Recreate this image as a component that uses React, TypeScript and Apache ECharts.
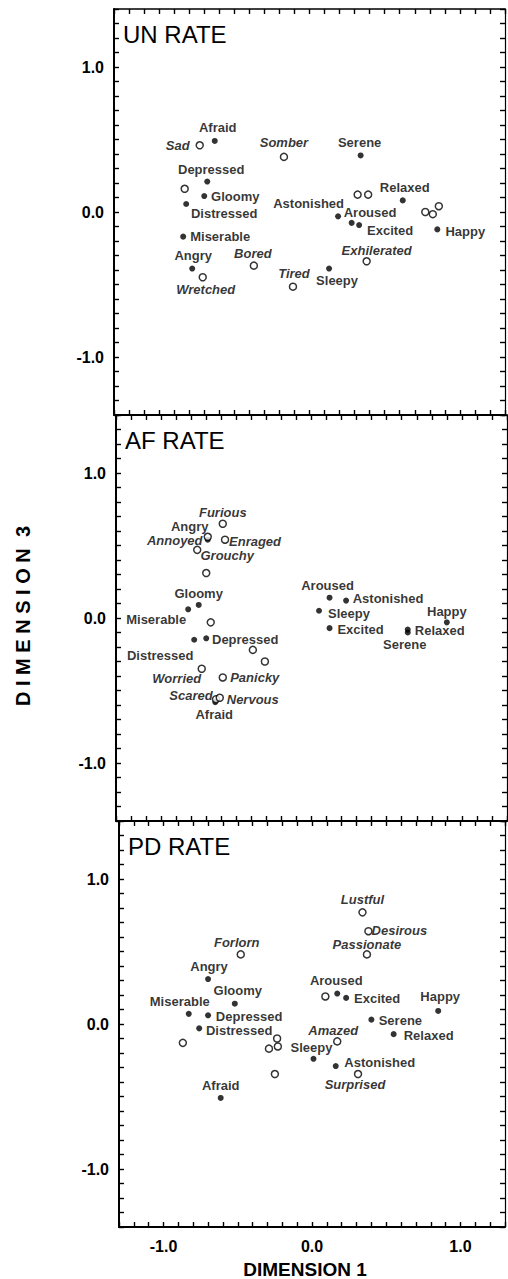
import React, { useEffect, useRef } from "react";
import * as echarts from "echarts";

type Pt = [string, number, number];

const panelTitles = ["UN RATE", "AF RATE", "PD RATE"];
const xAxisTitle = "DIMENSION 1";
const yAxisTitle = "D I M E N S I O N  3";

// UN RATE
const unFilled: Pt[] = [
  ["Afraid", -0.63, 0.49],
  ["Serene", 0.34, 0.39],
  ["Depressed", -0.68, 0.21],
  ["Gloomy", -0.7, 0.11],
  ["Relaxed", 0.62, 0.08],
  ["Distressed", -0.82, 0.055],
  ["Aroused", 0.19, -0.03],
  ["Astonished", 0.28, -0.075],
  ["Excited", 0.33, -0.09],
  ["Happy", 0.85, -0.12],
  ["Miserable", -0.84, -0.17],
  ["Angry", -0.78, -0.39],
  ["Sleepy", 0.13, -0.39],
];
const unOpen: Pt[] = [
  ["Sad", -0.73, 0.46],
  ["Somber", -0.17, 0.38],
  ["", -0.83, 0.16],
  ["", 0.32, 0.12],
  ["", 0.39, 0.12],
  ["", 0.77, 0.0],
  ["", 0.82, -0.015],
  ["", 0.86, 0.04],
  ["Bored", -0.37, -0.37],
  ["Exhilerated", 0.38, -0.34],
  ["Wretched", -0.71, -0.45],
  ["Tired", -0.11, -0.515],
];

// AF RATE
const afFilled: Pt[] = [
  ["Angry", -0.69, 0.54],
  ["Gloomy", -0.75, 0.09],
  ["Miserable", -0.82, 0.06],
  ["Depressed", -0.7, -0.14],
  ["Distressed", -0.78, -0.15],
  ["Afraid", -0.64, -0.58],
  ["Aroused", 0.12, 0.14],
  ["Astonished", 0.23, 0.12],
  ["Sleepy", 0.05, 0.05],
  ["Excited", 0.12, -0.07],
  ["Happy", 0.9, -0.03],
  ["Relaxed", 0.64, -0.1],
  ["Serene", 0.64, -0.08],
];
const afOpen: Pt[] = [
  ["Furious", -0.59, 0.65],
  ["Annoyed", -0.69, 0.56],
  ["Enraged", -0.575, 0.54],
  ["Grouchy", -0.76, 0.47],
  ["", -0.7, 0.31],
  ["", -0.67, -0.03],
  ["", -0.39, -0.22],
  ["", -0.31, -0.3],
  ["Worried", -0.73, -0.35],
  ["Panicky", -0.59, -0.41],
  ["Scared", -0.635, -0.56],
  ["Nervous", -0.61, -0.55],
];

// PD RATE
const pdFilled: Pt[] = [
  ["Angry", -0.7, 0.31],
  ["Aroused", 0.17, 0.21],
  ["Excited", 0.23, 0.18],
  ["Happy", 0.85, 0.09],
  ["Gloomy", -0.52, 0.14],
  ["Miserable", -0.83, 0.07],
  ["Depressed", -0.7, 0.06],
  ["Distressed", -0.76, -0.03],
  ["Serene", 0.4, 0.03],
  ["Relaxed", 0.55, -0.07],
  ["Sleepy", 0.01, -0.24],
  ["Astonished", 0.16, -0.29],
  ["Afraid", -0.615, -0.51],
];
const pdOpen: Pt[] = [
  ["Lustful", 0.34, 0.77],
  ["Desirous", 0.38, 0.64],
  ["Passionate", 0.37, 0.48],
  ["Forlorn", -0.48, 0.48],
  ["", 0.09, 0.19],
  ["", -0.87, -0.13],
  ["", -0.235, -0.1],
  ["", -0.29, -0.17],
  ["", -0.23, -0.155],
  ["Amazed", 0.17, -0.12],
  ["Surprised", 0.31, -0.345],
  ["", -0.25, -0.345],
];

// label placement (pixel offsets of label centre from its point)
const unLabelPos: Record<string, [number, number]> = {
  Afraid: [3, -13], Serene: [-1, -13], Depressed: [4, -12], Gloomy: [31, 0],
  Relaxed: [2, -13], Distressed: [38, 9], Aroused: [32, -4], Astonished: [-43, -19],
  Excited: [31, 5], Happy: [28, 2], Miserable: [37, 0], Angry: [1, -13], Sleepy: [8, 12],
  Sad: [-22, 0], Somber: [0, -14], Bored: [-1, -12], Exhilerated: [10, -11],
  Wretched: [3, 12], Tired: [1, -13],
};
const afLabelPos: Record<string, [number, number]> = {
  Angry: [-18, -13], Gloomy: [0, -11], Miserable: [-32, 10], Depressed: [39, 1],
  Distressed: [-34, 16], Afraid: [-1, 12], Aroused: [-2, -12], Astonished: [42, -2],
  Sleepy: [30, 3], Excited: [31, 1], Happy: [0, -11], Relaxed: [32, -2], Serene: [-3, 15],
  Furious: [0, -11], Annoyed: [-33, 4], Enraged: [30, 2], Grouchy: [30, 6],
  Worried: [-25, 10], Panicky: [32, 0], Scared: [-25, -4], Nervous: [33, 2],
};
const pdLabelPos: Record<string, [number, number]> = {
  Angry: [1, -13], Aroused: [-1, -13], Excited: [31, 1], Happy: [2, -14], Gloomy: [3, -13],
  Miserable: [-9, -12], Depressed: [41, 1], Distressed: [40, 2], Serene: [29, 1],
  Relaxed: [35, 1], Sleepy: [-2, -11], Astonished: [44, -4], Afraid: [0, -12],
  Lustful: [0, -13], Desirous: [31, -1], Passionate: [0, -10], Forlorn: [-4, -12],
  Amazed: [-4, -11], Surprised: [-3, 10],
};

const panels = [
  { filled: unFilled, open: unOpen, pos: unLabelPos },
  { filled: afFilled, open: afOpen, pos: afLabelPos },
  { filled: pdFilled, open: pdOpen, pos: pdLabelPos },
];

const GRID_LEFT = [114, 116, 119];
const GRID_TOP = [9, 415, 821];
const GRID_W = 391;
const GRID_H = 406;
const FONT = "'Liberation Sans', Arial, Helvetica, sans-serif";
const INK = "#000";

const intLabel = (v: number) =>
  Math.abs(v - Math.round(v)) < 1e-6 ? Math.round(v).toFixed(1) : "";

export default function App() {
  const ref = useRef<HTMLDivElement>(null);

  useEffect(() => {
    document.body.style.margin = "0";
    if (!ref.current) return;
    const chart = echarts.init(ref.current, undefined, { renderer: "svg" });

    const grid: any[] = [];
    const xAxis: any[] = [];
    const yAxis: any[] = [];
    const series: any[] = [];
    const graphic: any[] = [];

    const tick = { show: true, inside: true, length: 5, lineStyle: { color: INK, width: 1.4 } };

    panels.forEach((p, i) => {
      grid.push({ left: GRID_LEFT[i], top: GRID_TOP[i], width: GRID_W, height: GRID_H });
      const xBase = {
        gridIndex: i, type: "value", min: -1.3, max: 1.3, interval: 0.1,
        splitLine: { show: false }, axisTick: tick,
      };
      xAxis.push({
        ...xBase, position: "bottom",
        axisLine: { show: true, onZero: false, lineStyle: { color: INK, width: 2 } },
        axisLabel: {
          show: i === 2, formatter: intLabel, color: INK, fontSize: 16,
          fontWeight: "bold", fontFamily: FONT, margin: 11,
        },
      });
      xAxis.push({
        ...xBase, position: "top",
        axisLine: { show: true, onZero: false, lineStyle: { color: INK, width: 1.6 } },
        axisLabel: { show: false },
      });
      const yBase = {
        gridIndex: i, type: "value", min: -1.4, max: 1.4, interval: 0.1,
        splitLine: { show: false }, axisTick: tick,
      };
      yAxis.push({
        ...yBase, position: "left",
        axisLine: { show: true, onZero: false, lineStyle: { color: INK, width: 2 } },
        axisLabel: {
          formatter: intLabel, color: INK, fontSize: 16, fontWeight: "bold",
          fontFamily: FONT, margin: 10,
        },
      });
      yAxis.push({
        ...yBase, position: "right",
        axisLine: { show: true, onZero: false, lineStyle: { color: INK, width: 1.2 } },
        axisLabel: { show: false },
      });

      const mk = (pts: Pt[]) =>
        pts.map(([name, x, y]) => {
          const off = p.pos[name];
          return {
            name,
            value: [x, y],
            label: name && off ? { show: true, offset: off } : { show: false },
          };
        });

      const labelBase = {
        show: true, position: "inside", formatter: "{b}", color: INK,
        fontSize: 13, fontWeight: "bold", fontFamily: FONT, lineHeight: 13,
      };

      series.push({
        type: "scatter", xAxisIndex: 2 * i, yAxisIndex: 2 * i, silent: true,
        symbol: "circle", symbolSize: 6,
        itemStyle: { color: INK },
        label: labelBase,
        data: mk(p.filled),
        z: 3,
      });
      series.push({
        type: "scatter", xAxisIndex: 2 * i, yAxisIndex: 2 * i, silent: true,
        symbol: "circle", symbolSize: 7,
        itemStyle: { color: "#fff", borderColor: INK, borderWidth: 1.5 },
        label: { ...labelBase, fontStyle: "italic" },
        data: mk(p.open),
        z: 4,
      });

      graphic.push({
        type: "text", x: GRID_LEFT[i] + 9, y: GRID_TOP[i] + 25,
        style: {
          text: panelTitles[i], fill: INK, font: `normal 24px ${FONT}`,
          textAlign: "left", textVerticalAlign: "middle",
        },
      });
    });

    graphic.push({
      type: "text", x: 305, y: 1269,
      style: {
        text: xAxisTitle, fill: INK, font: `bold 19px ${FONT}`,
        textAlign: "center", textVerticalAlign: "middle",
      },
    });
    graphic.push({
      type: "text", x: 23, y: 616, rotation: Math.PI / 2,
      style: {
        text: yAxisTitle, fill: INK, font: `bold 20px ${FONT}`,
        textAlign: "center", textVerticalAlign: "middle",
      },
    });

    chart.setOption({
      animation: false,
      backgroundColor: "#fff",
      grid, xAxis, yAxis, series, graphic,
    });

    return () => chart.dispose();
  }, []);

  return <div ref={ref} style={{ width: 508, height: 1279 }} />;
}
